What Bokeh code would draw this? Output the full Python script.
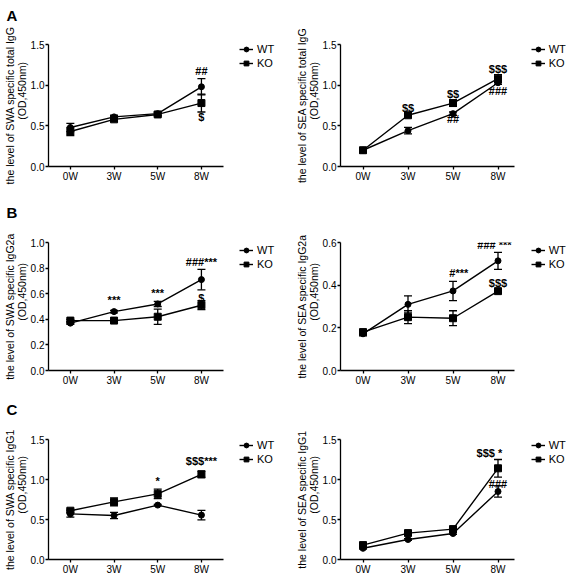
from bokeh.plotting import figure
from bokeh.models import (ColumnDataSource, Whisker, TeeHead, Legend, LegendItem,
                          FixedTicker, LabelSet, Range1d, NumeralTickFormatter, Title)
from bokeh.core.properties import value
from bokeh.layouts import gridplot
from bokeh.embed import file_html
from bokeh.resources import INLINE

FONT = "Liberation Sans"

weeks = ["0W", "3W", "5W", "8W"]

# A left: SWA specific total IgG
a1_wt = [0.48, 0.61, 0.65, 0.98]
a1_wt_err = [0.05, 0.02, 0.02, 0.10]
a1_ko = [0.43, 0.58, 0.64, 0.78]
a1_ko_err = [0.05, 0.02, 0.02, 0.11]
a1_note_x = [3, 3]
a1_note_y = [1.17, 0.61]
a1_note_t = ["##", "$"]

# A right: SEA specific total IgG
a2_wt = [0.20, 0.44, 0.65, 1.03]
a2_wt_err = [0.03, 0.04, 0.02, 0.02]
a2_ko = [0.20, 0.63, 0.78, 1.08]
a2_ko_err = [0.03, 0.02, 0.04, 0.05]
a2_note_x = [1, 2, 2, 3, 3]
a2_note_y = [0.72, 0.89, 0.58, 1.20, 0.93]
a2_note_t = ["$$", "$$", "##", "$$$", "###"]

# B left: SWA specific IgG2a
b1_wt = [0.37, 0.46, 0.52, 0.71]
b1_wt_err = [0.01, 0.01, 0.02, 0.08]
b1_ko = [0.39, 0.39, 0.42, 0.51]
b1_ko_err = [0.01, 0.01, 0.06, 0.035]
b1_note_x = [1, 2, 3, 3]
b1_note_y = [0.55, 0.605, 0.85, 0.57]
b1_note_t = ["***", "***", "###***", "$"]

# B right: SEA specific IgG2a
b2_wt = [0.172, 0.31, 0.373, 0.514]
b2_wt_err = [0.01, 0.04, 0.045, 0.04]
b2_ko = [0.18, 0.25, 0.245, 0.372]
b2_ko_err = [0.01, 0.03, 0.035, 0.005]
b2_note_x = [2.13, 2.92, 3]
b2_note_y = [0.457, 0.587, 0.41]
b2_note_t = ["#***", "### ***", "$$$"]

# C left: SWA specific IgG1
c1_wt = [0.57, 0.55, 0.68, 0.555]
c1_wt_err = [0.04, 0.04, 0.01, 0.06]
c1_ko = [0.61, 0.72, 0.82, 1.065]
c1_ko_err = [0.02, 0.05, 0.06, 0.04]
c1_note_x = [2, 3]
c1_note_y = [0.98, 1.23]
c1_note_t = ["*", "$$$***"]

# C right: SEA specific IgG1
c2_wt = [0.14, 0.25, 0.325, 0.85]
c2_wt_err = [0.01, 0.01, 0.01, 0.07]
c2_ko = [0.18, 0.33, 0.38, 1.14]
c2_ko_err = [0.01, 0.01, 0.01, 0.11]
c2_note_x = [2.81, 3]
c2_note_y = [1.33, 0.95]
c2_note_t = ["$$$ *", "###"]

ticks_15 = [0.0, 0.5, 1.0, 1.5]
ticks_10 = [0.0, 0.2, 0.4, 0.6, 0.8, 1.0]
ticks_06 = [0.0, 0.2, 0.4, 0.6]

# layout geometry (px): axis length in x units, px per x unit, legend gap
COLS = [dict(w=283, bl=45, xaxis_end=3.5, pxu=44.25, lgap=14),
        dict(w=283, bl=57, xaxis_end=3.36, pxu=45.0, lgap=17)]
ROWS = [dict(h=188, bt=41, bb=22, tlh=0.9), dict(h=200, bt=54, bb=18, tlh=0.95),
        dict(h=189, bt=51, bb=16, tlh=0.95)]

NB = "\u00a0"


def panel(ylabel, wt, wt_err, ko, ko_err, yticks, nx, ny, nt, col, rowg, letter=None):
    fw = col["w"] - col["bl"]
    fh = rowg["h"] - rowg["bt"] - rowg["bb"]
    x_end = -0.5 + fw / col["pxu"]
    p = figure(width=col["w"], height=rowg["h"], output_backend="svg", toolbar_location=None,
               x_range=Range1d(-0.5, x_end), y_range=Range1d(yticks[0], yticks[-1]),
               min_border_left=col["bl"], min_border_right=0,
               min_border_top=rowg["bt"], min_border_bottom=rowg["bb"])
    p.outline_line_color = None
    p.grid.visible = False
    p.background_fill_color = "white"
    p.border_fill_color = "white"

    xs = list(range(len(weeks)))
    s_wt = ColumnDataSource(dict(x=xs, y=wt,
                                 lo=[v - e for v, e in zip(wt, wt_err)],
                                 hi=[v + e for v, e in zip(wt, wt_err)]))
    s_ko = ColumnDataSource(dict(x=xs, y=ko,
                                 lo=[v - e for v, e in zip(ko, ko_err)],
                                 hi=[v + e for v, e in zip(ko, ko_err)]))
    for s in (s_wt, s_ko):
        p.add_layout(Whisker(base="x", upper="hi", lower="lo", source=s,
                             line_color="black", line_width=1.3,
                             upper_head=TeeHead(size=8, line_color="black", line_width=1.3),
                             lower_head=TeeHead(size=8, line_color="black", line_width=1.3)))
    wl = p.line("x", "y", source=s_wt, line_color="black", line_width=1.4)
    wp = p.scatter("x", "y", source=s_wt, marker="circle", size=6, color="black")
    kl = p.line("x", "y", source=s_ko, line_color="black", line_width=1.4)
    kp = p.scatter("x", "y", source=s_ko, marker="square", size=7, color="black")

    for ax in (p.xaxis[0], p.yaxis[0]):
        ax.axis_line_color = "black"
        ax.axis_line_width = 1.3
        ax.major_tick_line_color = "black"
        ax.major_tick_line_width = 1.3
        ax.major_tick_in = 0
        ax.major_tick_out = 3
        ax.minor_tick_line_color = None
        ax.major_label_text_font = FONT
        ax.major_label_text_font_size = "10px"
        ax.major_label_text_color = "black"
        ax.major_label_standoff = 1
    p.xaxis.bounds = (-0.5, col["xaxis_end"])
    p.xaxis.ticker = FixedTicker(ticks=xs)
    p.xaxis.major_label_overrides = {i: w for i, w in enumerate(weeks)}
    p.yaxis.ticker = FixedTicker(ticks=yticks)
    p.yaxis.formatter = NumeralTickFormatter(format="0.0")
    p.yaxis.axis_label = ylabel
    p.yaxis.axis_label_text_font = FONT
    p.yaxis.axis_label_text_font_size = "10.5px"
    p.yaxis.axis_label_text_font_style = "normal"
    p.yaxis.axis_label_text_color = "black"
    p.yaxis.axis_label_text_line_height = 1.0
    p.yaxis.axis_label_standoff = 0

    n_src = ColumnDataSource(dict(x=nx, y=ny, t=nt))
    p.add_layout(LabelSet(x="x", y="y", text="t", source=n_src, text_align="center",
                          text_baseline="middle", text_font=value(FONT),
                          text_font_size="11px", text_font_style="bold",
                          text_color="black"))

    axis_px = (col["xaxis_end"] + 0.5) * col["pxu"]
    leg = Legend(items=[LegendItem(label="WT", renderers=[wl, wp]),
                        LegendItem(label="KO", renderers=[kl, kp])],
                 location=(axis_px + col["lgap"], fh - 28), orientation="vertical",
                 glyph_width=14, glyph_height=12, label_height=12, label_standoff=4,
                 spacing=2, padding=0, margin=0, border_line_color=None,
                 background_fill_alpha=0, label_text_font=FONT, label_text_font_size="11px",
                 label_text_color="black")
    p.add_layout(leg)

    if letter is not None:
        p.title = Title(text=letter + "\n" + NB, align="left", offset=-(col["bl"] - 3),
                        text_font=FONT, text_font_size="15px", text_font_style="bold",
                        text_color="black", text_line_height=rowg["tlh"])
    return p


unit = "\n" + NB * 10 + "(OD,450nm)"
p1 = panel("the level of SWA specific total IgG" + unit, a1_wt, a1_wt_err, a1_ko, a1_ko_err,
           ticks_15, a1_note_x, a1_note_y, a1_note_t, COLS[0], ROWS[0], "A")
p2 = panel("the level of SEA specific total IgG" + unit, a2_wt, a2_wt_err, a2_ko, a2_ko_err,
           ticks_15, a2_note_x, a2_note_y, a2_note_t, COLS[1], ROWS[0])
p3 = panel("the level of SWA specific IgG2a" + unit, b1_wt, b1_wt_err, b1_ko, b1_ko_err,
           ticks_10, b1_note_x, b1_note_y, b1_note_t, COLS[0], ROWS[1], "B")
p4 = panel("the level of SEA specific IgG2a" + unit, b2_wt, b2_wt_err, b2_ko, b2_ko_err,
           ticks_06, b2_note_x, b2_note_y, b2_note_t, COLS[1], ROWS[1])
p5 = panel("the level of SWA specific IgG1" + unit, c1_wt, c1_wt_err, c1_ko, c1_ko_err,
           ticks_15, c1_note_x, c1_note_y, c1_note_t, COLS[0], ROWS[2], "C")
p6 = panel("the level of SEA specific IgG1" + unit, c2_wt, c2_wt_err, c2_ko, c2_ko_err,
           ticks_15, c2_note_x, c2_note_y, c2_note_t, COLS[1], ROWS[2])

grid = gridplot([[p1, p2], [p3, p4], [p5, p6]], toolbar_location=None)

open("out.html", "w").write(file_html(grid, INLINE))
